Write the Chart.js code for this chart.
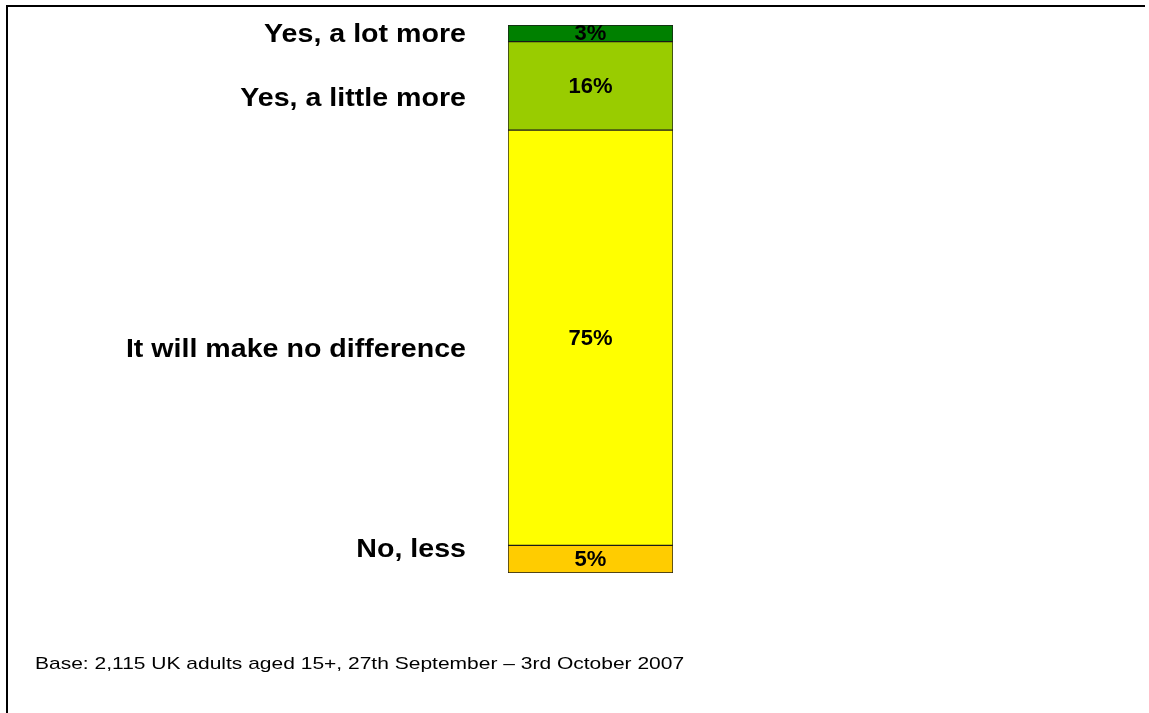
<!DOCTYPE html>
<html>
<head>
<meta charset="utf-8">
<script src="https://cdn.jsdelivr.net/npm/chart.js@4/dist/chart.umd.min.js"></script>
<style>
  html, body { margin: 0; padding: 0; background: #ffffff; }
  #wrap { position: relative; width: 1149px; height: 713px; }
  canvas { display: block; }
</style>
</head>
<body>
<div id="wrap"><canvas id="chart" width="1149" height="713"></canvas></div>
<script>
// Survey answers, stacked bottom to top
const answers = ['No, less', 'It will make no difference', 'Yes, a little more', 'Yes, a lot more'];
const shares = [5, 75, 16, 3];
const fills = ['#FFCC00', '#FFFF00', '#99CC00', '#008000'];
const baseNote = 'Base: 2,115 UK adults aged 15+, 27th September \u2013 3rd October 2007';

const FONT = '"Liberation Sans", Arial, sans-serif';

// Frame lines, answer captions, segment values and the base note
const annotate = {
  id: 'annotate',
  afterDraw(chart) {
    const ctx = chart.ctx;
    const area = chart.chartArea;
    ctx.save();

    // frame: top rule and left rule
    ctx.strokeStyle = '#000000';
    ctx.lineWidth = 2;
    ctx.beginPath();
    ctx.moveTo(7, 713);
    ctx.lineTo(7, 6);
    ctx.lineTo(1145, 6);
    ctx.stroke();

    const captionShift = [-9, 12, 13, 2];
    chart.data.datasets.forEach((ds, i) => {
      const bar = chart.getDatasetMeta(i).data[0];
      const mid = (bar.y + bar.base) / 2;

      // value inside the segment
      ctx.fillStyle = '#000000';
      ctx.font = 'bold 22px ' + FONT;
      ctx.textAlign = 'center';
      ctx.textBaseline = 'middle';
      ctx.fillText(ds.data[0] + '%', bar.x, mid + 1);

      // answer caption to the left of the bar
      ctx.save();
      ctx.font = 'bold 26px ' + FONT;
      ctx.textAlign = 'right';
      ctx.textBaseline = 'middle';
      ctx.translate(area.left - 42, mid + captionShift[i]);
      ctx.scale(1.1, 1);
      ctx.fillText(ds.label, 0, 0);
      ctx.restore();
    });

    // base note
    ctx.save();
    ctx.font = '17px ' + FONT;
    ctx.textAlign = 'left';
    ctx.textBaseline = 'alphabetic';
    ctx.fillStyle = '#000000';
    ctx.translate(35, 669);
    ctx.scale(1.235, 1);
    ctx.fillText(baseNote, 0, 0);
    ctx.restore();

    ctx.restore();
  }
};

new Chart(document.getElementById('chart'), {
  type: 'bar',
  data: {
    labels: [''],
    datasets: answers.map((a, i) => ({
      label: a,
      data: [shares[i]],
      backgroundColor: fills[i],
      borderColor: '#1a1a1a',
      borderWidth: 1,
      borderSkipped: false,
      barPercentage: 1,
      categoryPercentage: 1
    }))
  },
  options: {
    responsive: false,
    animation: false,
    layout: { padding: { left: 508, right: 476, top: 25, bottom: 140 } },
    plugins: {
      legend: { display: false },
      tooltip: { enabled: false }
    },
    scales: {
      x: { stacked: true, display: false },
      y: {
        stacked: true,
        display: false,
        min: 0,
        max: shares.reduce((s, v) => s + v, 0)
      }
    }
  },
  plugins: [annotate]
});
</script>
</body>
</html>
